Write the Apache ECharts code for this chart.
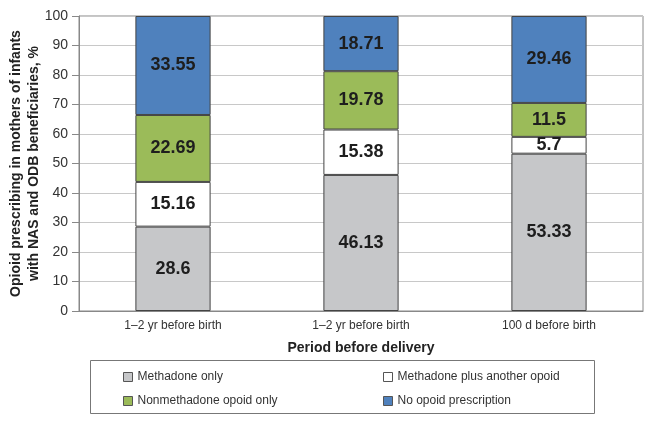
<!DOCTYPE html>
<html>
  <head>
    <meta charset="UTF-8" />
    <title>Opioid prescribing before delivery</title>
    <style>
      html, body { margin: 0; padding: 0; background: #fff; }
      #chart { width: 659px; height: 432px; }
    </style>
    <script src="https://cdn.jsdelivr.net/npm/echarts@6/dist/echarts.min.js"></script>
  </head>
  <body>
    <div id="chart"></div>
    <script>
      var categories = ["1–2 yr before birth", "1–2 yr before birth", "100 d before birth"];
      var seriesNames = [
        "Methadone only",
        "Methadone plus another opoid",
        "Nonmethadone opoid only",
        "No opoid prescription"
      ];
      var methadoneOnly = [28.6, 46.13, 53.33];
      var methadonePlus = [15.16, 15.38, 5.7];
      var nonMethadone = [22.69, 19.78, 11.5];
      var noOpioid = [33.55, 18.71, 29.46];
      var colors = ["#c6c7c9", "#ffffff", "#9bbb59", "#4f81bd"];

      var font = "Liberation Sans, Arial, sans-serif";
      var myChart = echarts.init(document.getElementById("chart"));

      var values = [methadoneOnly, methadonePlus, nonMethadone, noOpioid];
      var series = [];
      for (var i = 0; i < values.length; i++) {
        series.push({
          name: seriesNames[i],
          type: "bar",
          stack: "total",
          barWidth: "40%",
          data: values[i],
          itemStyle: { color: colors[i], borderColor: "#444", borderWidth: 1 },
          label: {
            show: true,
            position: "inside",
            color: "#1e1e1e",
            fontSize: 18,
            fontWeight: "bold",
            fontFamily: font
          }
        });
      }

      var legendText = { color: "#333", fontSize: 12, fontFamily: font };
      var legendIcon = "path://M0,0H10V10H0Z";

      myChart.setOption({
        animation: false,
        color: colors,
        grid: {
          left: 79, right: 16, top: 16, bottom: 121,
          outerBoundsMode: "none",
          show: true, borderColor: "#888", borderWidth: 1
        },
        xAxis: {
          type: "category",
          data: categories,
          name: "Period before delivery",
          nameLocation: "middle",
          nameGap: 30,
          nameMoveOverlap: false,
          nameTextStyle: { fontSize: 14, fontWeight: "bold", color: "#222", fontFamily: font },
          axisTick: { show: false },
          axisLine: { lineStyle: { color: "#888" } },
          axisLabel: { color: "#333", fontSize: 12, margin: 9, fontFamily: font }
        },
        yAxis: {
          type: "value",
          min: 0,
          max: 100,
          interval: 10,
          name: "Opioid prescribing in mothers of infants\nwith NAS and ODB beneficiaries, %",
          nameLocation: "middle",
          nameGap: 36,
          nameMoveOverlap: false,
          nameTextStyle: { fontSize: 14, fontWeight: "bold", color: "#222", lineHeight: 18, fontFamily: font },
          axisLine: { show: true, lineStyle: { color: "#888" } },
          axisTick: { show: true, length: 7, lineStyle: { color: "#888" } },
          axisLabel: { color: "#333", fontSize: 14, margin: 11, fontFamily: font },
          splitLine: { lineStyle: { color: "#c8c8c8" } }
        },
        legend: [
          {
            data: [seriesNames[0], seriesNames[2]],
            orient: "vertical",
            left: 118, top: 366,
            itemWidth: 9, itemHeight: 9, itemGap: 12,
            icon: legendIcon,
            itemStyle: { borderColor: "#555", borderWidth: 1 },
            textStyle: legendText
          },
          {
            data: [seriesNames[1], seriesNames[3]],
            orient: "vertical",
            left: 378, top: 366,
            itemWidth: 9, itemHeight: 9, itemGap: 12,
            icon: legendIcon,
            itemStyle: { borderColor: "#555", borderWidth: 1 },
            textStyle: legendText
          }
        ],
        graphic: [
          {
            type: "rect",
            shape: { x: 90.5, y: 360.5, width: 504, height: 53 },
            style: { fill: "none", stroke: "#777", lineWidth: 1 },
            silent: true
          }
        ],
        series: series
      });
    </script>
  </body>
</html>
